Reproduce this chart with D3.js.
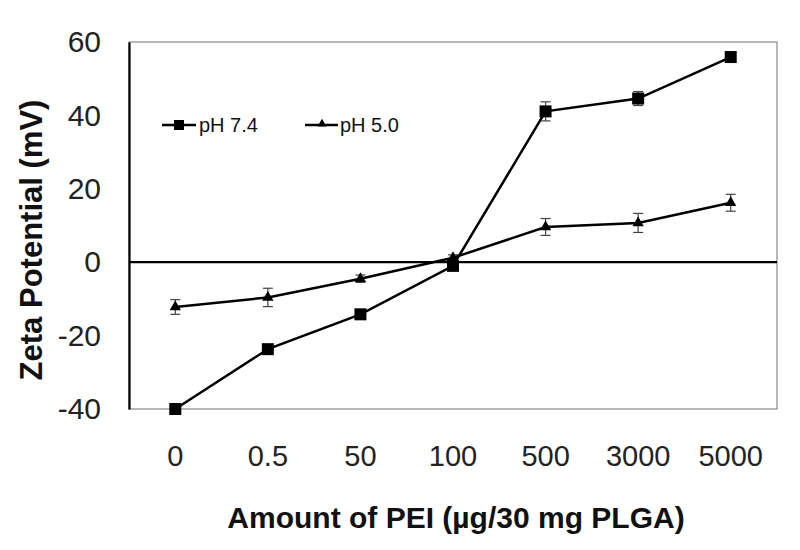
<!DOCTYPE html>
<html>
<head>
<meta charset="utf-8">
<script src="https://cdn.jsdelivr.net/npm/d3@7"></script>
<style>
  body { margin: 0; background: #fff; }
  svg { font-family: 'Liberation Sans', Arial, sans-serif; }
</style>
</head>
<body>
<div class="chart"></div>
<script>
const categories = ['0', '0.5', '50', '100', '500', '3000', '5000'];
const ph74 = [-40, -23.7, -14.2, -1, 41.1, 44.6, 55.9];
const ph74Err = [0.6, 0.8, 0.7, 0.8, 2.6, 1.9, 0.6];
const ph50 = [-12.2, -9.6, -4.5, 1.2, 9.6, 10.7, 16.2];
const ph50Err = [2.0, 2.5, 1.0, 0.8, 2.3, 2.6, 2.3];
const yTicks = [-40, -20, 0, 20, 40, 60];

const w = 800, h = 550;
const margin = { top: 42, right: 23, bottom: 141, left: 129 };
const iw = w - margin.left - margin.right;
const ih = h - margin.top - margin.bottom;

const svg = d3.select('.chart').append('svg')
  .attr('width', w)
  .attr('height', h);

const g = svg.append('g')
  .attr('transform', `translate(${margin.left},${margin.top})`);

const x = d3.scaleBand().domain(categories).range([0, iw]);
const y = d3.scaleLinear().domain([-40, 60]).range([ih, 0]);
const cx = c => x(c) + x.bandwidth() / 2;

// plot frame
g.append('rect')
  .attr('x', 0).attr('y', 0)
  .attr('width', iw).attr('height', ih)
  .attr('fill', 'none')
  .attr('stroke', '#8a8a8a')
  .attr('stroke-width', 1.2);

// y axis
const yAxis = g.append('g')
  .call(d3.axisLeft(y).tickValues(yTicks).tickSize(0).tickPadding(28).tickFormat(d => String(d)));
yAxis.select('.domain').attr('stroke', '#000').attr('stroke-width', 2.2);
yAxis.selectAll('text')
  .attr('font-size', 30)
  .attr('fill', '#222')
  .attr('font-family', "'Liberation Sans', Arial, sans-serif");

// zero line
g.append('line')
  .attr('x1', 0).attr('x2', iw)
  .attr('y1', y(0)).attr('y2', y(0))
  .attr('stroke', '#000')
  .attr('stroke-width', 2.2);

// x labels
const xAxis = g.append('g')
  .attr('transform', `translate(0,${ih})`)
  .call(d3.axisBottom(x).tickSize(0).tickPadding(36));
xAxis.select('.domain').remove();
xAxis.selectAll('text')
  .attr('font-size', 29)
  .attr('fill', '#222')
  .attr('font-family', "'Liberation Sans', Arial, sans-serif");

// axis titles
svg.append('text')
  .attr('x', 456).attr('y', 528)
  .attr('text-anchor', 'middle')
  .attr('font-size', 30)
  .attr('font-weight', 'bold')
  .attr('fill', '#111')
  .text('Amount of PEI (µg/30 mg PLGA)');

svg.append('text')
  .attr('transform', 'translate(42,240) rotate(-90)')
  .attr('text-anchor', 'middle')
  .attr('font-size', 31)
  .attr('font-weight', 'bold')
  .attr('fill', '#111')
  .text('Zeta Potential (mV)');

const line = d3.line()
  .x((d, i) => cx(categories[i]))
  .y(d => y(d));

function drawErr(vals, errs) {
  const eg = g.append('g');
  vals.forEach((v, i) => {
    const px = cx(categories[i]);
    eg.append('line')
      .attr('x1', px).attr('x2', px)
      .attr('y1', y(v - errs[i])).attr('y2', y(v + errs[i]))
      .attr('stroke', '#444').attr('stroke-width', 1.2);
    [v - errs[i], v + errs[i]].forEach(e => {
      eg.append('line')
        .attr('x1', px - 5).attr('x2', px + 5)
        .attr('y1', y(e)).attr('y2', y(e))
        .attr('stroke', '#444').attr('stroke-width', 1.2);
    });
  });
}

drawErr(ph74, ph74Err);
drawErr(ph50, ph50Err);

// pH 7.4 line
g.append('path')
  .attr('d', line(ph74))
  .attr('fill', 'none')
  .attr('stroke', '#000')
  .attr('stroke-width', 2.5);

g.selectAll('.sq')
  .data(ph74)
  .enter().append('rect')
  .attr('x', (d, i) => cx(categories[i]) - 6)
  .attr('y', d => y(d) - 6)
  .attr('width', 12).attr('height', 12)
  .attr('fill', '#000');

// pH 5.0 line
g.append('path')
  .attr('d', line(ph50))
  .attr('fill', 'none')
  .attr('stroke', '#000')
  .attr('stroke-width', 2.5);

const tri = d3.symbol().type(d3.symbolTriangle).size(55);
g.selectAll('.tri')
  .data(ph50)
  .enter().append('path')
  .attr('d', tri)
  .attr('transform', (d, i) => `translate(${cx(categories[i])},${y(d)})`)
  .attr('fill', '#000');

// legend
const lg = svg.append('g');
lg.append('line').attr('x1', 162).attr('x2', 196).attr('y1', 125).attr('y2', 125)
  .attr('stroke', '#000').attr('stroke-width', 2.5);
lg.append('rect').attr('x', 174).attr('y', 120).attr('width', 10).attr('height', 10).attr('fill', '#000');
lg.append('text').attr('x', 199).attr('y', 132).attr('font-size', 20).attr('fill', '#111').text('pH 7.4');

lg.append('line').attr('x1', 305).attr('x2', 338).attr('y1', 125).attr('y2', 125)
  .attr('stroke', '#000').attr('stroke-width', 2.5);
lg.append('path').attr('d', d3.symbol().type(d3.symbolTriangle).size(35))
  .attr('transform', 'translate(322,124)').attr('fill', '#000');
lg.append('text').attr('x', 340).attr('y', 132).attr('font-size', 20).attr('fill', '#111').text('pH 5.0');
</script>
</body>
</html>
